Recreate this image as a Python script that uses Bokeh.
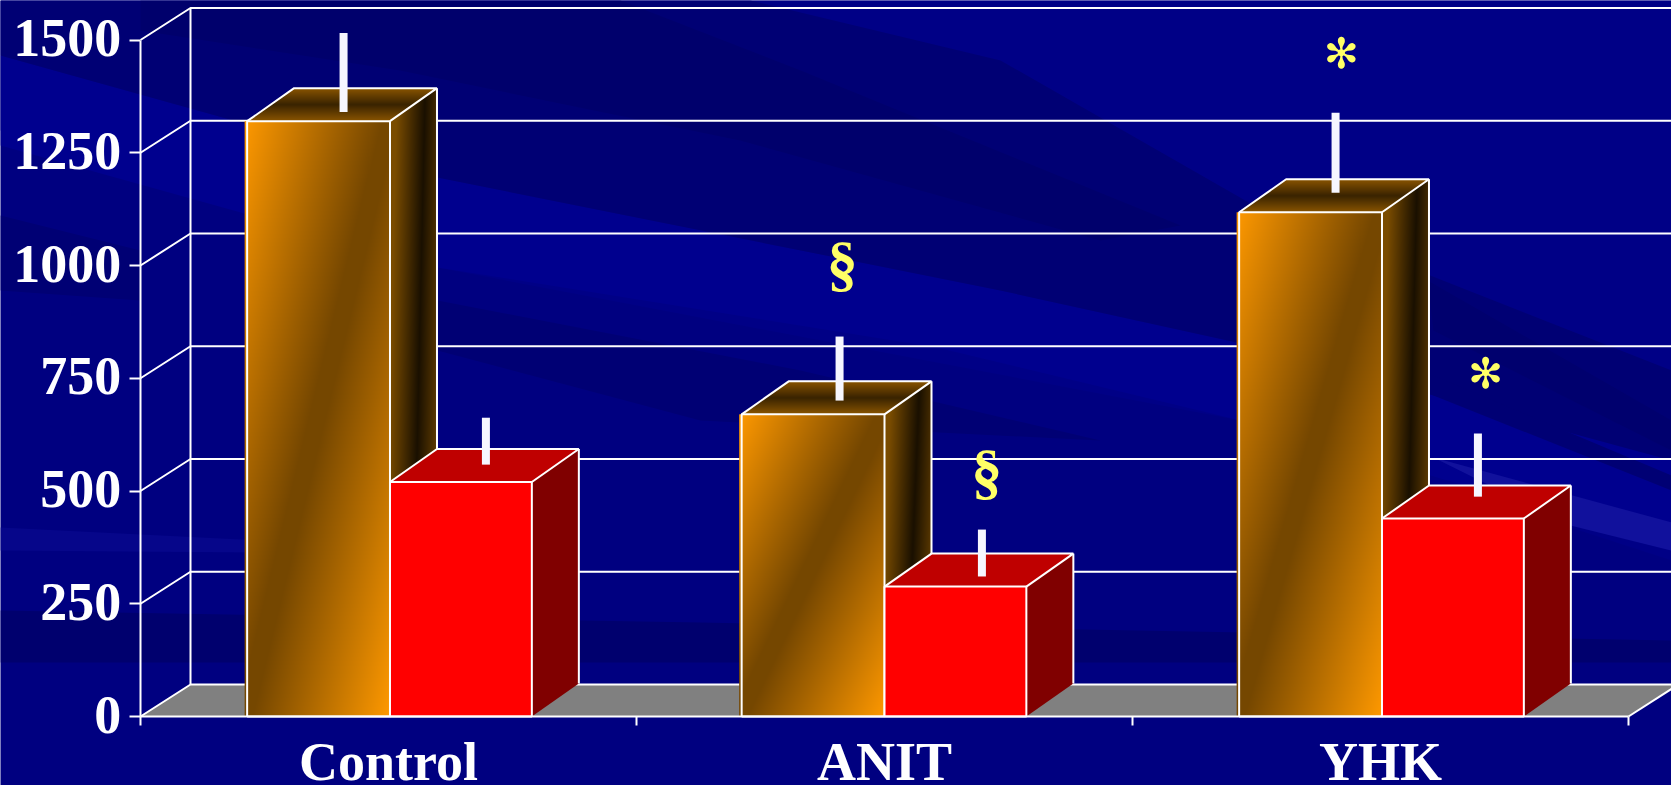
import numpy as np
from bokeh.core.properties import value
from bokeh.embed import file_html
from bokeh.models import FixedTicker
from bokeh.plotting import figure
from bokeh.resources import INLINE

# ---- chart data ----
categories = ["Control", "ANIT", "YHK"]
group_start = [0, 1, 2]
bar_group_pos = [0, 0.997, 2]
tick_values = [0, 250, 500, 750, 1000, 1250, 1500]
orange_values = [1320, 670, 1118]
red_values = [520, 288, 439]
orange_err_low = [1305, 665, 1126]
orange_err_high = [1480, 807, 1303]
red_err_low = [523, 275, 452]
red_err_high = [627, 379, 592]
section_marks = ["§", "§"]
section_x = [1.415, 1.706]
section_v = [1005, 544]
star_marks = ["✻", "✻"]
star_x = [2.421, 2.712]
star_v = [1469, 760]

# ---- layout constants ----
W, H = 1671, 785
LEFT, BASE = 140, 716
PX_X, PX_Y = 496.0, 0.451
DX, DY = 50 / PX_X, 32 / PX_Y          # wall depth
BDX, BDY = 47 / PX_X, 33 / PX_Y        # bar depth
ORANGE_L, SPLIT, RED_R = 0.215, 0.503, 0.789
STRIP = 2.5 / PX_X
LABEL_V = -101
YLABEL_X = -0.039
YLABEL_SHIFT = 4
WHITE = "#ffffff"

p = figure(frame_width=W, frame_height=H, output_backend="svg", toolbar_location=None,
           x_range=(-LEFT / PX_X, (W - LEFT) / PX_X), y_range=((BASE - H) / PX_Y, BASE / PX_Y),
           min_border_left=0, min_border_right=0, min_border_top=0, min_border_bottom=0,
           background_fill_color="#000080", border_fill_color="#000080", outline_line_color=None)
p.styles = {"position": "fixed", "left": "0px", "top": "0px"}
p.grid.visible = False

# ---- background streaks (screen pixels of the backdrop) ----
def bx(xs): return [(x - LEFT) / PX_X for x in xs]
def by(ys): return [(BASE - y) / PX_Y for y in ys]

streaks = [
    ("#000086", [0, 1671, 1671, 1240, 437, 0], [0, 0, 560, 420, 267, 130]),
    ("#00008e", [0, 437, 1000, 1250, 1671, 1671, 1240, 936, 437, 0], [55, 177, 290, 345, 460, 545, 420, 347, 267, 145]),
    ("#000074", [0, 750, 1000, 1257, 1671, 1671, 1250, 1000, 437, 0], [0, 0, 60, 207, 370, 460, 345, 290, 177, 55]),
    ("#00006c", [140, 620, 800, 1180, 1100, 740, 400, 140], [0, 0, 70, 225, 240, 140, 70, 30]),
    ("#000074", [437, 800, 1100, 700, 437], [300, 370, 440, 420, 350]),
    ("#00006e", [1427, 1671, 1671, 1433], [280, 420, 450, 330]),
    ("#000074", [1433, 1671, 1671, 1433], [375, 475, 490, 395]),
    ("#000074", [0, 140, 140, 0], [215, 250, 300, 290]),
    ("#00006e", [0, 700, 1671, 1671, 700, 0], [610, 622, 640, 662, 662, 662]),
    ("#06068a", [0, 260, 260, 0], [527, 540, 552, 550]),
    ("#11119c", [1433, 1671, 1671, 1570], [457, 522, 550, 525]),
]
for col, xs, ys in streaks:
    p.patch(bx(xs), by(ys), fill_color=col, line_color=None)

# ---- floor and walls ----
x_end = (W - LEFT) / PX_X
p.patch([0, 3, 3 + DX, x_end, x_end, DX], [0, 0, DY, DY, DY, DY], fill_color="#808080", line_color=None)
grid_xs = [[0, DX, x_end] for _ in tick_values]
grid_ys = [[t, t + DY, t + DY] for t in tick_values]
p.multi_line(grid_xs, grid_ys, line_color=WHITE, line_width=2)
p.segment([DX], [DY], [DX], [1500 + DY], line_color=WHITE, line_width=2)
p.line([3, 3 + DX], [0, DY], line_color=WHITE, line_width=2)

# ---- gradient helpers ----
def rgba(r, g, b, a=None):
    a = np.full(r.shape, 255.0) if a is None else a
    return (np.clip(a, 0, 255).astype(np.uint32) << 24) | (np.clip(b, 0, 255).astype(np.uint32) << 16) | \
        (np.clip(g, 0, 255).astype(np.uint32) << 8) | np.clip(r, 0, 255).astype(np.uint32)

def lerp(c0, c1, k):
    return [c0[i] + (c1[i] - c0[i]) * k for i in range(3)]

BRIGHT, MID = (255, 153, 0), (117, 71, 0)
DARK, EDGE = (26, 16, 0), (122, 76, 0)
TOP_DARK, TOP_EDGE = (58, 36, 0), (138, 85, 0)

def grid(wpx, hpx):
    wpx, hpx = max(int(round(wpx)), 1), max(int(round(hpx)), 1)
    u = (np.arange(wpx) + .5) / wpx
    v = (np.arange(hpx) + .5) / hpx
    return np.meshgrid(u, v)

def orange_front(x0, x1, top):
    u, v = grid((x1 - x0) * PX_X, top * PX_Y)
    k = np.clip((1 - np.abs(u + (1 - v) - 1)) * 1.05, 0, 1)
    return rgba(*lerp(BRIGHT, MID, k))

def orange_side(top):
    h = (top + BDY) * PX_Y
    u, v = grid(BDX * PX_X, h)
    f = BDY / (top + BDY)
    inside = (v >= u * f) & (v <= (1 - f) + u * f)
    c = 0.45 + 0.3 * v
    k = np.clip(np.abs(u - c) / 0.6, 0, 1)
    return rgba(*lerp(DARK, EDGE, k), np.where(inside, 255.0, 0.0))

def orange_top(width):
    u, v = grid((width + BDX) * PX_X, BDY * PX_Y)
    f = BDX / (width + BDX)
    inside = (u >= v * f) & (u <= (1 - f) + v * f)
    k = np.abs(v - 0.5) * 2
    return rgba(*lerp(TOP_DARK, TOP_EDGE, k), np.where(inside, 255.0, 0.0))

def outline(x0, x1, v):
    xs = [[x0, x1, x1, x0, x0], [x0, x0 + BDX, x1 + BDX, x1], [x1 + BDX, x1 + BDX]]
    ys = [[0, 0, v, v, 0], [v, v + BDY, v + BDY, v], [v + BDY, BDY]]
    p.multi_line(xs, ys, line_color=WHITE, line_width=2)

# ---- bars ----
for g, ov, rv in zip(bar_group_pos, orange_values, red_values):
    x0, xm, x1 = g + ORANGE_L, g + SPLIT, g + RED_R
    p.image_rgba(image=[orange_top(xm - x0)], x=[x0], y=[ov], dw=[xm - x0 + BDX], dh=[BDY])
    p.image_rgba(image=[orange_side(ov)], x=[xm], y=[0], dw=[BDX], dh=[ov + BDY])
    p.image_rgba(image=[orange_front(x0 - STRIP, xm, ov)], x=[x0 - STRIP], y=[0], dw=[xm - x0 + STRIP], dh=[ov])
    outline(x0, xm, ov)
    p.patch([xm, x1, x1 + BDX, xm + BDX], [rv, rv, rv + BDY, rv + BDY], fill_color="#bf0000", line_color=None)
    p.patch([x1, x1 + BDX, x1 + BDX, x1], [0, BDY, rv + BDY, rv], fill_color="#800000", line_color=None)
    p.quad(left=[xm], right=[x1], bottom=[0], top=[rv], fill_color="#ff0000", line_color=None)
    outline(xm, x1, rv)

# ---- error bars ----
ex = [g + (ORANGE_L + SPLIT + DX) / 2 for g in group_start]
rx = [g + (SPLIT + RED_R + DX) / 2 for g in group_start]
p.segment(ex, [v + DY / 2 for v in orange_err_low], ex, [v + DY / 2 for v in orange_err_high],
          line_color="#f6f6ff", line_width=8)
p.segment(rx, [v + DY / 2 for v in red_err_low], rx, [v + DY / 2 for v in red_err_high],
          line_color="#f6f6ff", line_width=8)

# ---- significance marks, category and value labels ----
p.text(section_x, section_v, text=section_marks, text_color="#ffff66", text_align="center",
       text_baseline="middle", text_font=value("Liberation Serif"), text_font_style="bold",
       text_font_size="62px")
p.text(star_x, star_v, text=star_marks, text_color="#ffff66", text_align="center",
       text_baseline="middle", text_font=value("DejaVu Sans"), text_font_size="42px")
p.text([g + 0.5 for g in group_start], [LABEL_V] * 3, text=categories, text_color=WHITE, text_align="center",
       text_baseline="middle", text_font=value("Liberation Serif"), text_font_style="bold",
       text_font_size="54px")
p.text([YLABEL_X] * len(tick_values), [t + YLABEL_SHIFT for t in tick_values], text=[str(t) for t in tick_values],
       text_color=WHITE, text_align="right", text_baseline="middle", text_font=value("Liberation Serif"),
       text_font_style="bold", text_font_size="54px")

# ---- axes ----
p.yaxis.fixed_location = 0
p.yaxis.ticker = FixedTicker(ticks=tick_values)
p.yaxis.bounds = (0, 1500)
p.yaxis.major_tick_out = 0
p.yaxis.major_tick_in = -11
p.yaxis.minor_tick_out = 0
p.yaxis.minor_tick_in = 0
p.yaxis.major_label_standoff = 0
p.yaxis.axis_line_color = WHITE
p.yaxis.axis_line_width = 2
p.yaxis.major_tick_line_color = WHITE
p.yaxis.major_tick_line_width = 2
p.yaxis.major_label_text_color = None
p.yaxis.major_label_text_font_size = "0px"

p.xaxis.fixed_location = 0
p.xaxis.ticker = FixedTicker(ticks=group_start + [3])
p.xaxis.major_label_text_font_size = "0px"
p.xaxis.major_label_standoff = 0
p.xaxis.major_label_text_color = None
p.xaxis.bounds = (0, 3)
p.xaxis.major_tick_out = 0
p.xaxis.major_tick_in = -9
p.xaxis.minor_tick_out = 0
p.xaxis.minor_tick_in = 0
p.xaxis.axis_line_color = WHITE
p.xaxis.axis_line_width = 2
p.xaxis.major_tick_line_color = WHITE
p.xaxis.major_tick_line_width = 2

open("out.html", "w").write(file_html(p, INLINE))
